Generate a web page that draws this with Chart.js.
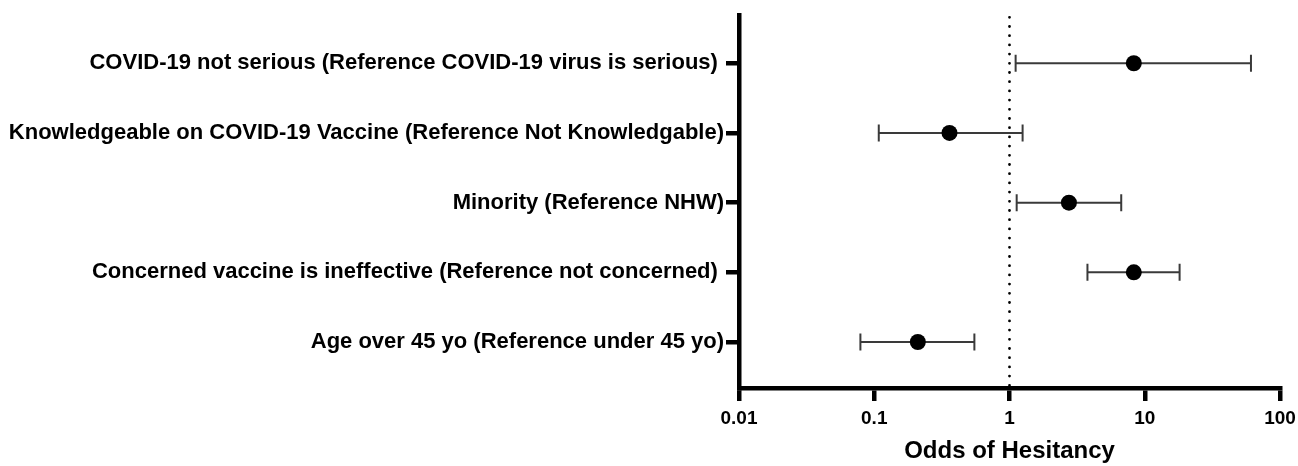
<!DOCTYPE html>
<html>
<head>
<meta charset="utf-8">
<script src="https://cdn.jsdelivr.net/npm/chart.js@4"></script>
<style>
  body { margin: 0; background: #fff; }
  #wrap { width: 1298px; height: 466px; }
</style>
</head>
<body>
<div id="wrap"><canvas id="forest" width="1298" height="466"></canvas></div>
<script>
// rows from top to bottom
const labels = [
    'COVID-19 not serious (Reference COVID-19 virus is serious) ',
    'Knowledgeable on COVID-19 Vaccine (Reference Not Knowledgable)',
    'Minority (Reference NHW)',
    'Concerned vaccine is ineffective (Reference not concerned) ',
    'Age over 45 yo (Reference under 45 yo)'
];
const oddsRatio = [8.3, 0.36, 2.75, 8.3, 0.21];
const ciLower = [1.11, 0.108, 1.13, 3.77, 0.079];
const ciUpper = [61, 1.25, 6.7, 18.1, 0.55];
const xTicks = [0.01, 0.1, 1, 10, 100];
const refLine = 1;

const rowY = (i) => labels.length - i;
const font = { family: '"Liberation Sans", Arial, sans-serif', weight: 'bold' };

const whiskers = labels.map((l, i) => ({
    type: 'line',
    data: [{ x: ciLower[i], y: rowY(i) }, { x: ciUpper[i], y: rowY(i) }],
    borderColor: '#3a3a3a',
    borderWidth: 2,
    pointRadius: 0,
    order: 3
}));

const caps = {
    type: 'scatter',
    data: labels.flatMap((l, i) => [{ x: ciLower[i], y: rowY(i) }, { x: ciUpper[i], y: rowY(i) }]),
    pointStyle: 'line',
    rotation: 90,
    radius: 8.5,
    borderColor: '#3a3a3a',
    borderWidth: 2,
    order: 2
};

const points = {
    type: 'scatter',
    data: labels.map((l, i) => ({ x: oddsRatio[i], y: rowY(i) })),
    pointStyle: 'circle',
    radius: 8,
    backgroundColor: '#000',
    borderColor: '#000',
    borderWidth: 0,
    order: 1
};

// dotted reference line at OR = 1, drawn top to bottom
const dotted = {
    type: 'line',
    data: [{ x: refLine, y: 5.66 }, { x: refLine, y: 0.37 }],
    borderColor: '#000',
    borderWidth: 2.8,
    borderDash: [0, 9.2],
    borderCapStyle: 'round',
    pointRadius: 0,
    order: 4
};

new Chart(document.getElementById('forest'), {
    type: 'scatter',
    data: { datasets: [dotted, ...whiskers, caps, points] },
    options: {
        responsive: false,
        animation: false,
        layout: { padding: { top: 15, right: 18, left: 0, bottom: 0 } },
        plugins: { legend: { display: false }, tooltip: { enabled: false } },
        scales: {
            x: {
                type: 'logarithmic',
                min: 0.01,
                max: 100,
                afterBuildTicks: (scale) => { scale.ticks = xTicks.map(v => ({ value: v })); },
                afterFit: (scale) => {
                    scale.height = 78;
                    scale.paddingLeft = 0;
                    scale.paddingRight = 0;
                },
                grid: { drawOnChartArea: false, drawTicks: true, tickLength: 13, lineWidth: 4.5, color: '#000' },
                border: { display: true, width: 4.5, color: '#000' },
                ticks: {
                    padding: 6,
                    color: '#000',
                    font: { ...font, size: 19 },
                    callback: (v) => String(v)
                },
                title: {
                    display: true,
                    text: 'Odds of Hesitancy',
                    color: '#000',
                    font: { ...font, size: 24 },
                    padding: { top: 0, bottom: 0 }
                }
            },
            y: {
                type: 'linear',
                min: 0.34,
                max: 5.69,
                afterBuildTicks: (scale) => { scale.ticks = labels.map((l, i) => ({ value: rowY(i) })); },
                afterFit: (scale) => { scale.width = 739; },
                grid: { drawOnChartArea: false, drawTicks: true, tickLength: 13, lineWidth: 4.5, color: '#000' },
                border: { display: true, width: 4.5, color: '#000' },
                ticks: {
                    padding: 2,
                    color: '#000',
                    font: { ...font, size: 22 },
                    callback: (v) => labels[labels.length - v]
                }
            }
        }
    }
});
</script>
</body>
</html>
